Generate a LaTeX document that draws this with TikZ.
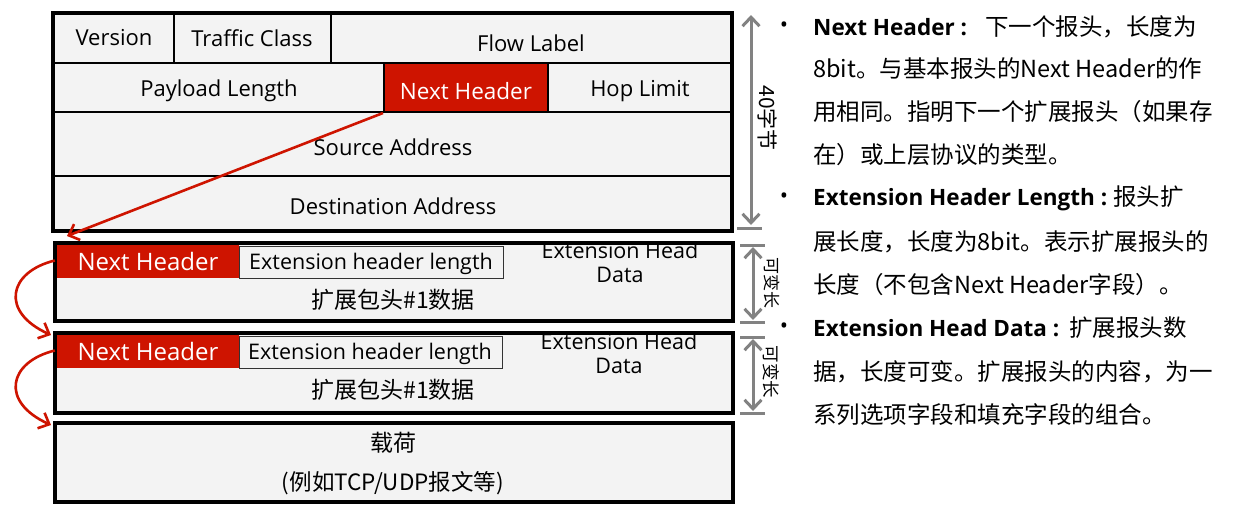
\documentclass[tikz,border=0pt]{standalone}
\usepackage{fontspec}
\setmainfont{Open Sans}
\newfontfamily\cjk{Noto Sans CJK SC}
\usetikzlibrary{arrows.meta}
\definecolor{hdrred}{RGB}{206,20,0}
\definecolor{cellbg}{RGB}{243,243,243}
\definecolor{dimgray}{RGB}{130,130,130}
\begin{document}
\begin{tikzpicture}[x=1pt,y=-1pt,
  lbl/.style={font=\fontsize{22}{26}\selectfont, inner sep=0pt},
  wlbl/.style={font=\fontsize{24}{26}\selectfont, inner sep=0pt, text=white},
  cjklbl/.style={font=\cjk\fontsize{23}{26}\selectfont, inner sep=0pt},
  vlbl/.style={font=\cjk\fontsize{21}{22}\selectfont, inner sep=0pt, rotate=-90},
  rtxt/.style={font=\cjk\fontsize{23.5}{28}\selectfont, anchor=west, inner sep=0pt},
  bul/.style={font=\fontsize{22}{24}\selectfont, inner sep=0pt},
  outerline/.style={draw=black, line width=3.5pt},
  gridline/.style={draw=black, line width=2pt},
  thinline/.style={draw=black!80, line width=1pt},
  redarrow/.style={draw=hdrred, line width=2.6pt, -{Straight Barb[length=9pt,width=17pt,line width=2.6pt]}},
  dimarrow/.style={draw=dimgray, line width=3pt, {Straight Barb[length=9pt,width=17pt,line width=3pt]}-{Straight Barb[length=9pt,width=17pt,line width=3pt]}},
  dimtick/.style={draw=dimgray, line width=3pt}
]
\newcommand{\bhead}[2][0pt]{{\normalfont\bfseries\fontsize{22.5}{26}\selectfont #2\hspace{#1}\hspace{6pt}}}
\useasboundingbox (0,0) rectangle (1256,509);
\fill[white] (0,0) rectangle (1256,509);

% ---------- main IPv6 header ----------
\fill[cellbg] (53,13) rectangle (732,231);
\node[lbl] (ver) at (114,38) {Version};
\node[lbl] (tc) at (252,38) {Traffic Class};
\node[lbl] (fl) at (531,43) {Flow Label};
\node[lbl] (pl) at (219,91) {Payload Length};
\node[draw=black, line width=2pt, fill=hdrred, minimum width=164, minimum height=49, inner sep=0pt] (nh0) at (466,87.5) {};
\node[lbl, text=white, font=\fontsize{22.5}{26}\selectfont] (nh0t) at (466,91) {Next Header};
\node[lbl] (hl) at (640,91) {Hop Limit};
\node[lbl] (src) at (393,147) {Source Address};
\node[lbl] (dst) at (393,206) {Destination Address};
\draw[gridline] (53,63) -- (732,63) (53,112) -- (732,112) (53,176) -- (732,176);
\draw[gridline] (174,13) -- (174,63) (331,13) -- (331,63);
\draw[gridline] (384,63) -- (384,112) (548,63) -- (548,112);
\draw[outerline] (53,13) rectangle (732,231);

% ---------- extension header 1 ----------
\fill[cellbg] (55,243) rectangle (733,321);
\node[fill=hdrred, minimum width=184, minimum height=35, inner sep=0pt] (nh1) at (147,260.5) {};
\node[wlbl] (nh1t) at (148,261) {Next Header};
\node[fill=cellbg, thinline, minimum width=264, minimum height=32, inner sep=0pt] (len1) at (371,262) {};
\node[lbl, font=\fontsize{21.5}{26}\selectfont] (len1t) at (371,264) {Extension header length};
\node[lbl, font=\fontsize{21.5}{26}\selectfont] (ehd1a) at (620,250) {Extension Head};
\node[lbl, font=\fontsize{21.5}{26}\selectfont] (ehd1b) at (620,275) {Data};
\node[cjklbl] (d1) at (393,300) {扩展包头\#1数据};
\node[outerline, minimum width=678, minimum height=78, inner sep=0pt] (ext1) at (394,282) {};

% ---------- extension header 2 ----------
\fill[cellbg] (55,333) rectangle (733,413);
\node[fill=hdrred, minimum width=184, minimum height=35, inner sep=0pt] (nh2) at (147,350.5) {};
\node[wlbl] (nh2t) at (148,351) {Next Header};
\node[fill=cellbg, thinline, minimum width=263, minimum height=32, inner sep=0pt] (len2) at (370.5,352) {};
\node[lbl, font=\fontsize{21.5}{26}\selectfont] (len2t) at (370,354) {Extension header length};
\node[lbl, font=\fontsize{21.5}{26}\selectfont] (ehd2a) at (619,341) {Extension Head};
\node[lbl, font=\fontsize{21.5}{26}\selectfont] (ehd2b) at (619,366) {Data};
\node[cjklbl] (d2) at (393,390) {扩展包头\#1数据};
\node[outerline, minimum width=678, minimum height=80, inner sep=0pt] (ext2) at (394,373) {};

% ---------- payload ----------
\node[outerline, fill=cellbg, minimum width=678, minimum height=79, inner sep=0pt] (pay) at (394,462.5) {};
\node[cjklbl] (payt1) at (393,443) {载荷};
\node[cjklbl, font=\cjk\fontsize{22.5}{26}\selectfont] (payt2) at (393,483) {(例如TCP/UDP报文等)};

% ---------- red arrows ----------
\coordinate (t1) at (67,236);
\coordinate (t2) at (51,335);
\coordinate (t3) at (51,425);
\draw[redarrow] (nh0.south west) -- (t1);
\draw[redarrow] (nh1.west) .. controls (8,272) and (0,312) .. (t2);
\draw[redarrow] (nh2.west) .. controls (8,362) and (0,402) .. (t3);

% ---------- dimension arrows ----------
\coordinate (a1t) at (751,15);
\coordinate (a1b) at (751,225);
\draw[dimarrow] (a1t) -- (a1b);
\draw[dimtick] (737,228) -- (762,228);
\node[vlbl] (l40) at (768,118) {40字节};

\coordinate (a2t) at (753,247);
\coordinate (a2b) at (753,320);
\draw[dimtick] (740,245) -- (765,245) (740,322) -- (765,322);
\draw[dimarrow] (a2t) -- (a2b);
\node[vlbl, font=\cjk\fontsize{17}{18}\selectfont] (lv1) at (772,283) {可变长};

\coordinate (a3t) at (753,339);
\coordinate (a3b) at (753,411);
\draw[dimtick] (740,337) -- (765,337) (740,413) -- (765,413);
\draw[dimarrow] (a3t) -- (a3b);
\node[vlbl, font=\cjk\fontsize{17.5}{18}\selectfont] (lv2) at (771,372) {可变长};

% ---------- right-hand text ----------
\node[bul] (b1) at (784,27) {•};
\node[rtxt] (r1) at (813,27) {\bhead[12pt]{Next Header :}下一个报头，长度为};
\node[rtxt] (r2) at (813,69) {8bit。与基本报头的Next Header的作};
\node[rtxt] (r3) at (813,112) {用相同。指明下一个扩展报头（如果存};
\node[rtxt] (r4) at (813,155) {在）或上层协议的类型。};
\node[bul] (b2) at (784,198) {•};
\node[rtxt] (r5) at (813,198) {\bhead{Extension Header Length :}报头扩};
\node[rtxt] (r6) at (813,242) {展长度，长度为8bit。表示扩展报头的};
\node[rtxt] (r7) at (813,285) {长度（不包含Next Header字段）。};
\node[bul] (b3) at (784,328) {•};
\node[rtxt] (r8) at (813,328) {\bhead[4pt]{Extension Head Data :}扩展报头数};
\node[rtxt] (r9) at (813,372) {据，长度可变。扩展报头的内容，为一};
\node[rtxt] (r10) at (813,415) {系列选项字段和填充字段的组合。};
\end{tikzpicture}
\end{document}
